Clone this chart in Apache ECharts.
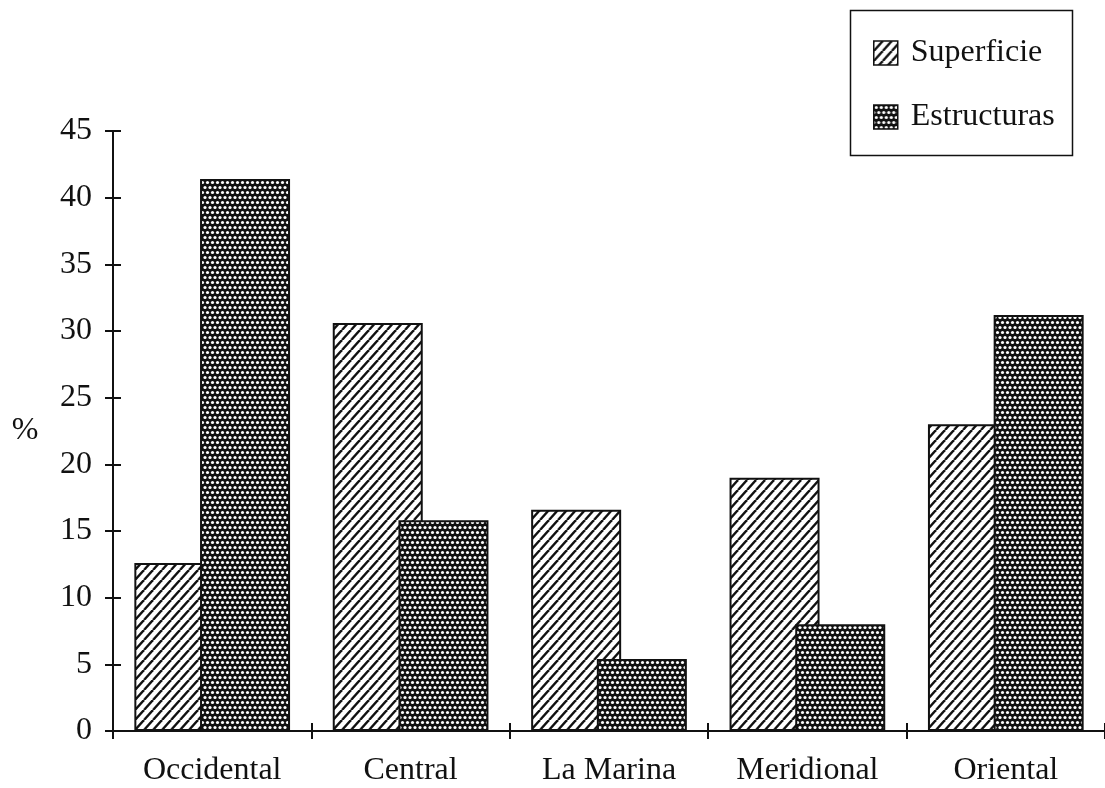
<!DOCTYPE html>
<html>
<head>
<meta charset="utf-8">
<script src="https://cdn.jsdelivr.net/npm/echarts@6/dist/echarts.min.js"></script>
<style>
  html, body { margin: 0; padding: 0; background: #fff; }
  #chart { width: 1105px; height: 788px; }
</style>
</head>
<body>
<div id="chart"></div>
<script>
// Regions and the share (%) of surface finds vs. structures in each
const categories = ['Occidental', 'Central', 'La Marina', 'Meridional', 'Oriental'];
const superficie = [12.6, 30.6, 16.6, 19.0, 23.0];
const estructuras = [41.4, 15.8, 5.4, 8.0, 31.2];
const seriesNames = ['Superficie', 'Estructuras'];
const yMin = 0, yMax = 45, yStep = 5;
const yName = '%';

const INK = '#111';
const SERIF = '"Liberation Serif", "DejaVu Serif", serif';

// Diagonal "////" hatch fill
function hatchPattern() {
  const w = 9, h = 10;
  const c = document.createElement('canvas');
  c.width = w; c.height = h;
  const g = c.getContext('2d');
  g.fillStyle = '#fff';
  g.fillRect(0, 0, w, h);
  g.strokeStyle = INK;
  g.lineWidth = 2.4;
  for (const dx of [-w, 0, w]) {
    g.beginPath();
    g.moveTo(dx, h);
    g.lineTo(dx + w, 0);
    g.stroke();
  }
  return c;
}

// Dark screen with white dots on a staggered grid
function dotPattern() {
  const c = document.createElement('canvas');
  c.width = 10; c.height = 10;
  const g = c.getContext('2d');
  g.fillStyle = INK;
  g.fillRect(0, 0, 10, 10);
  g.fillStyle = '#fff';
  const pts = [[2.5, 2.5], [7.5, 2.5], [0, 7.5], [5, 7.5], [10, 7.5]];
  for (const [x, y] of pts) {
    g.beginPath();
    g.arc(x, y, 1.6, 0, Math.PI * 2);
    g.fill();
  }
  return c;
}

const hatchFill = { image: hatchPattern(), repeat: 'repeat' };
const dotFill = { image: dotPattern(), repeat: 'repeat' };

const chart = echarts.init(document.getElementById('chart'), null, { renderer: 'canvas' });

const tickStyle = { color: INK, width: 2 };

chart.setOption({
  animation: false,
  backgroundColor: '#fff',
  // the x axis runs on past the right edge of the page
  grid: { left: 113, right: -3, top: 131, bottom: 57, containLabel: false },
  legend: {
    orient: 'vertical',
    left: 868,
    top: 32,
    itemWidth: 24,
    itemHeight: 24,
    itemGap: 32,
    icon: 'rect',
    selectedMode: false,
    data: seriesNames,
    itemStyle: { borderColor: INK, borderWidth: 1.5 },
    textStyle: { fontFamily: SERIF, fontSize: 32, color: INK, lineHeight: 32, padding: [0, 0, 0, 8] }
  },
  graphic: [
    {
      type: 'rect',
      left: 848, top: 8,
      shape: { width: 222, height: 145 },
      style: { fill: 'none', stroke: INK, lineWidth: 1.5 },
      silent: true
    },
    {
      type: 'text',
      x: 25, y: 431,
      style: { text: yName, font: '32px ' + SERIF, fill: INK, align: 'center', verticalAlign: 'middle' },
      silent: true
    }
  ],
  xAxis: [
    {
      type: 'category',
      data: categories,
      boundaryGap: true,
      axisLine: { show: true, lineStyle: tickStyle },
      axisTick: { show: true, length: 8, lineStyle: tickStyle },
      axisLabel: { color: INK, fontFamily: SERIF, fontSize: 32, margin: 24 },
      splitLine: { show: false }
    },
    {
      type: 'category',
      data: categories,
      position: 'bottom',
      offset: 0,
      boundaryGap: true,
      axisLine: { show: false },
      axisTick: { show: true, inside: true, length: 8, lineStyle: tickStyle },
      axisLabel: { show: false },
      splitLine: { show: false }
    }
  ],
  yAxis: [
    {
      type: 'value',
      min: yMin, max: yMax, interval: yStep,
      axisLine: { show: true, lineStyle: tickStyle },
      axisTick: { show: true, length: 8, lineStyle: tickStyle },
      axisLabel: { color: INK, fontFamily: SERIF, fontSize: 32, margin: 21 },
      splitLine: { show: false }
    },
    {
      type: 'value',
      position: 'left',
      offset: 0,
      min: yMin, max: yMax, interval: yStep,
      axisLine: { show: false },
      axisTick: { show: true, inside: true, length: 8, lineStyle: tickStyle },
      axisLabel: { show: false },
      splitLine: { show: false }
    }
  ],
  series: [
    {
      name: seriesNames[0],
      type: 'bar',
      data: superficie,
      barWidth: 90,
      barGap: '-27%',
      itemStyle: { color: hatchFill, borderColor: INK, borderWidth: 2 }
    },
    {
      name: seriesNames[1],
      type: 'bar',
      data: estructuras,
      barWidth: 90,
      barGap: '-27%',
      itemStyle: { color: dotFill, borderColor: INK, borderWidth: 2 }
    }
  ]
});
</script>
</body>
</html>
